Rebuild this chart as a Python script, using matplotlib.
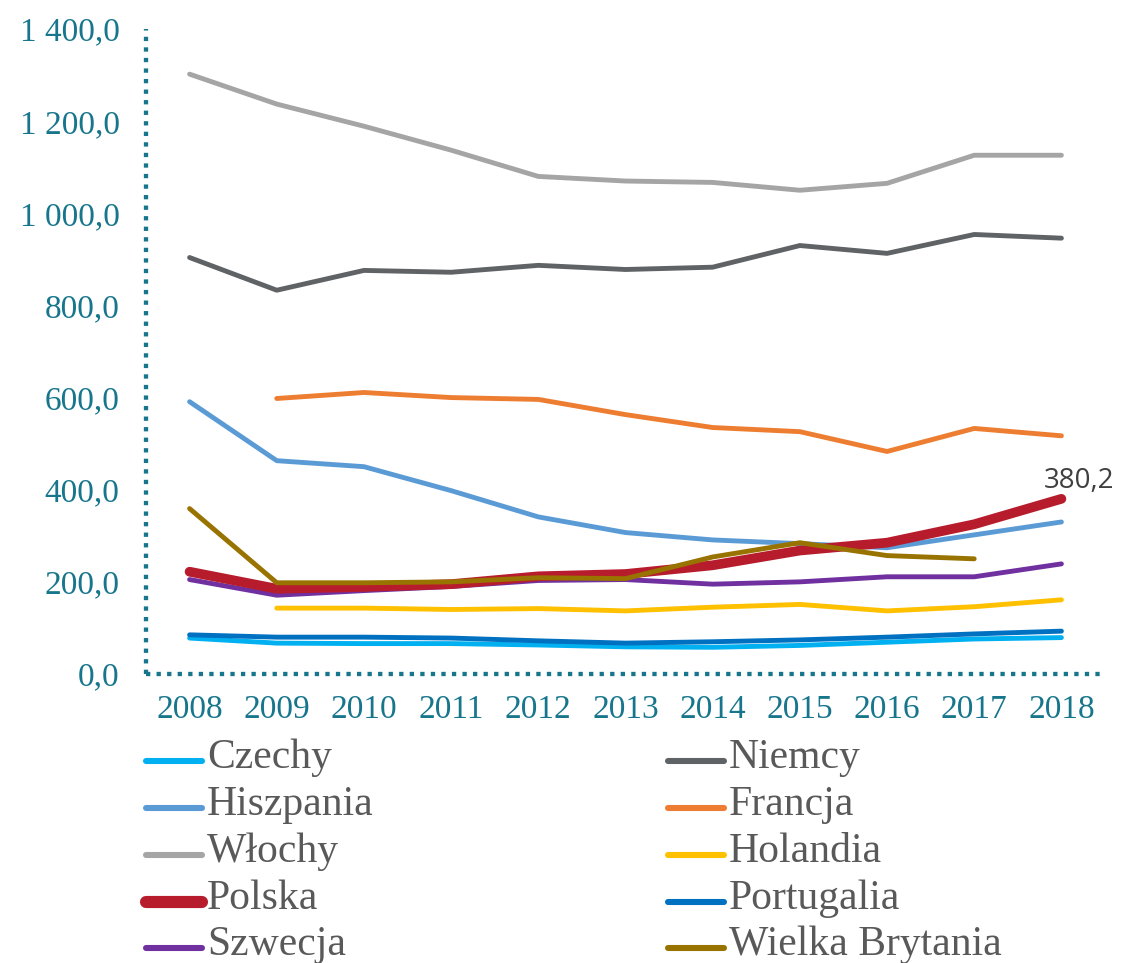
import numpy as np
import matplotlib
matplotlib.use("Agg")
import matplotlib.pyplot as plt
from matplotlib.ticker import FuncFormatter
from matplotlib.lines import Line2D

plt.rcParams['font.family'] = ['Liberation Serif', 'DejaVu Serif']

years = list(range(2008, 2019))

czechy = [78, 67, 66, 66, 63, 59, 58, 62, 69, 76, 79]
niemcy = [904, 833, 876, 872, 887, 878, 883, 930, 913, 954, 946]
hiszpania = [591, 463, 450, 398, 341, 307, 291, 283, 274, 302, 330]
francja = [None, 598, 611, 600, 596, 563, 535, 526, 483, 533, 517]
wlochy = [1302, 1237, 1189, 1137, 1080, 1070, 1067, 1050, 1065, 1126, 1126]
holandia = [None, 143, 143, 140, 142, 137, 145, 151, 137, 146, 161]
polska = [222, 185, 189, 195, 212, 217, 236, 268, 285, 325, 380.2]
portugalia = [85, 80, 80, 78, 72, 67, 70, 74, 80, 87, 93]
szwecja = [205, 171, 181, 190, 203, 205, 195, 200, 211, 211, 239]
wielka_brytania = [359, 198, 198, 200, 209, 207, 254, 285, 257, 250, None]

# (label, values, color, width) in legend (row-major) order
series = [
    ("Czechy", czechy, "#00B0F0", 3.5),
    ("Niemcy", niemcy, "#5F6365", 3.5),
    ("Hiszpania", hiszpania, "#5B9BD5", 3.5),
    ("Francja", francja, "#ED7D31", 3.5),
    ("Włochy", wlochy, "#A5A5A5", 3.5),
    ("Holandia", holandia, "#FFC000", 3.5),
    ("Polska", polska, "#B71C2C", 7.0),
    ("Portugalia", portugalia, "#0070C0", 3.5),
    ("Szwecja", szwecja, "#7030A0", 3.5),
    ("Wielka Brytania", wielka_brytania, "#997300", 3.5),
]
draw_order = ["Czechy", "Niemcy", "Hiszpania", "Francja", "Włochy", "Holandia",
              "Portugalia", "Szwecja", "Polska", "Wielka Brytania"]

teal = "#17768C"
W, H = 1123, 963
fig = plt.figure(figsize=(W / 100, H / 100), dpi=100)
ax = fig.add_axes([146 / W, 1 - 674 / H, (1105 - 146) / W, (674 - 29) / H])

x = np.arange(len(years))
lookup = {s[0]: s for s in series}
for name in draw_order:
    _, vals, color, lw = lookup[name]
    y = np.array([np.nan if v is None else v for v in vals], dtype=float)
    ax.plot(x, y, color=color, lw=lw, solid_capstyle='round',
            solid_joinstyle='round')

ax.annotate("380,2", (x[-1], polska[-1]), xytext=(13, 8),
            textcoords='offset points', ha='center', va='baseline',
            fontsize=20, color="#404040", family=['Open Sans', 'DejaVu Sans'])

ax.set_xlim(-0.5, len(years) - 0.5)
ax.set_ylim(0, 1400)
ax.set_xticks(x)
ax.set_xticklabels([str(yy) for yy in years])
ax.set_yticks(np.arange(0, 1401, 200))
ax.yaxis.set_major_formatter(FuncFormatter(
    lambda v, p: f"{v:,.1f}".replace(",", " ").replace(".", ",")))
ax.tick_params(axis='both', length=0, labelsize=24, colors=teal)
ax.tick_params(axis='y', pad=19)
ax.tick_params(axis='x', pad=15)

for side in ['top', 'right']:
    ax.spines[side].set_visible(False)
for side in ['left', 'bottom']:
    ax.spines[side].set_color(teal)
    ax.spines[side].set_linewidth(3.1)
    ax.spines[side].set_linestyle((0, (1, 1.45)))
    ax.spines[side].set_capstyle('butt')

# legend drawn by hand: two columns, row-major order like the reference
row_y = [761, 808, 855, 902, 948]
col_x = [146, 668]
for i, (name, _, color, lw) in enumerate(series):
    col, row = i % 2, i // 2
    yf = 1 - row_y[row] / H
    x0 = col_x[col]
    fig.add_artist(Line2D([x0 / W, (x0 + 56) / W], [yf, yf], color=color,
                          lw=lw * 1.25, solid_capstyle='round',
                          transform=fig.transFigure))
    fig.text((x0 + 61) / W, 1 - (row_y[row] + 7) / H, name, fontsize=30,
             color="#595959", va='baseline', ha='left')

fig.savefig("out.png", dpi=100)
